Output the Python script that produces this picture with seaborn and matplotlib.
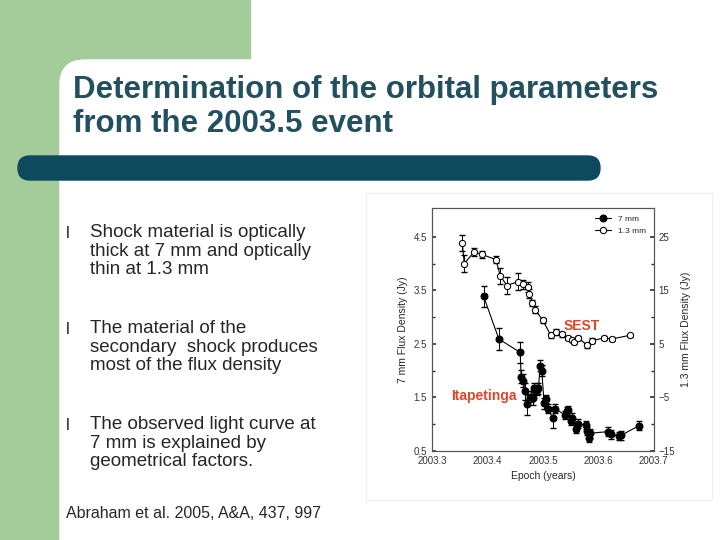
import matplotlib
matplotlib.use("Agg")
import matplotlib.pyplot as plt
from matplotlib.patches import Rectangle, FancyBboxPatch
import seaborn as sns
import pandas as pd

sns.set_theme(style="white")
plt.rcParams['font.family'] = ['Liberation Sans', 'DejaVu Sans']

t13 = [2003.3546, 2003.3582, 2003.3762, 2003.39, 2003.4152, 2003.423, 2003.435, 2003.4548,
       2003.4638, 2003.4728, 2003.4758, 2003.4812, 2003.486, 2003.4998, 2003.5142, 2003.5232,
       2003.5352, 2003.5448, 2003.552, 2003.5562, 2003.564, 2003.5802, 2003.588, 2003.6108,
       2003.624, 2003.657]
f13 = [23.9, 20.0, 22.2, 21.7, 20.75, 17.75, 15.9, 16.6, 16.1, 15.6, 14.4, 12.6, 11.4, 9.4,
       6.6, 7.2, 6.75, 6.1, 5.75, 5.4, 6.1, 4.7, 5.6, 6.1, 5.9, 6.6]
e13 = [1.5, 1.6, 0.8, 0.6, 0.7, 1.5, 1.6, 1.6, 0.9, 0.9, 0.8, 0.6, 0.6, 0.5, 0.5, 0.5,
       0.4, 0.4, 0.4, 0.4, 0.4, 0.4, 0.4, 0.3, 0.3, 0.3]
t7 = [2003.393, 2003.4206, 2003.459, 2003.4608, 2003.4644, 2003.468, 2003.471, 2003.4782,
      2003.4818, 2003.4848, 2003.489, 2003.492, 2003.495, 2003.498, 2003.5022, 2003.5058,
      2003.5088, 2003.5178, 2003.522, 2003.54, 2003.543, 2003.546, 2003.5502, 2003.5532,
      2003.5598, 2003.564, 2003.5778, 2003.5802, 2003.5832, 2003.585, 2003.618, 2003.6222,
      2003.6378, 2003.6408, 2003.6732]
f7 = [3.39, 2.59, 2.34, 1.89, 1.81, 1.61, 1.37, 1.51, 1.48, 1.67, 1.64, 1.67, 2.09, 2.0,
      1.39, 1.47, 1.29, 1.12, 1.29, 1.17, 1.24, 1.26, 1.06, 1.11, 0.91, 1.01, 0.98, 0.87,
      0.74, 0.83, 0.86, 0.81, 0.78, 0.79, 0.97]
e7 = [0.2, 0.2, 0.2, 0.12, 0.12, 0.15, 0.2, 0.1, 0.12, 0.1, 0.1, 0.1, 0.1, 0.1, 0.1, 0.08,
      0.08, 0.2, 0.08, 0.08, 0.08, 0.08, 0.08, 0.1, 0.08, 0.08, 0.08, 0.08, 0.08, 0.08, 0.08,
      0.08, 0.08, 0.08, 0.08]

fig = plt.figure(figsize=(7.2, 5.4), dpi=100)
fig.patch.set_facecolor('white')
bg = fig.add_axes([0, 0, 1, 1]); bg.set_xlim(0, 720); bg.set_ylim(540, 0); bg.axis('off')
green = '#a3cc9a'
bg.add_patch(Rectangle((0, 0), 60, 540, color=green))
bg.add_patch(Rectangle((0, 0), 250, 60, color=green))
bg.add_patch(Rectangle((0, 0), 100, 100, color=green))
bg.add_patch(FancyBboxPatch((60, 60), 700, 520, boxstyle="round,pad=0,rounding_size=25", color='white'))
bg.add_patch(FancyBboxPatch((18, 156), 582, 24, boxstyle="round,pad=0,rounding_size=12", color='#0e4a5f'))
bg.text(73, 107, "Determination of the orbital parameters\nfrom the 2003.5 event", fontsize=22.5, fontweight='bold',
        color='#23505f', va='center', linespacing=1.2)
bullets = [(233, "Shock material is optically\nthick at 7 mm and optically\nthin at 1.3 mm"),
           (329, "The material of the\nsecondary  shock produces\nmost of the flux density"),
           (425, "The observed light curve at\n7 mm is explained by\ngeometrical factors.")]
for y, s in bullets:
    bg.text(66, y, "l", fontsize=12, va='center')
    bg.text(90, y - 9, s, fontsize=13.5, va='top', linespacing=1.13)
bg.text(66, 513, "Abraham et al. 2005, A&A, 437, 997", fontsize=11.5, va='center')
bg.add_patch(Rectangle((366, 193), 346, 307, facecolor='white', edgecolor='#eeeeee', lw=0.8))

ax = fig.add_axes([0.6, 0.165, 0.308, 0.45])
ax2 = ax.twinx()
d7 = pd.DataFrame({'t': t7, 'f': f7})
d13 = pd.DataFrame({'t': t13, 'f': f13})
ax.errorbar(t7, f7, yerr=e7, fmt='none', ecolor='black', lw=0.7, capsize=2)
sns.lineplot(data=d7, x='t', y='f', ax=ax, color='black', lw=0.8, marker='o', markersize=5,
             markerfacecolor='black', markeredgecolor='black', label='7 mm', legend=False)
ax2.errorbar(t13, f13, yerr=e13, fmt='none', ecolor='black', lw=0.7, capsize=2)
sns.lineplot(data=d13, x='t', y='f', ax=ax2, color='black', lw=0.8, marker='o', markersize=4.5,
             markerfacecolor='white', markeredgecolor='black', label='1.3 mm', legend=False)
ax.set_xlim(2003.3, 2003.7); ax.set_ylim(0.5, 5.04); ax2.set_ylim(-15, 30.4)
ax.set_xticks([2003.3, 2003.4, 2003.5, 2003.6, 2003.7])
ax.set_xticklabels(['2003.3', '2003.4', '2003.5', '2003.6', '2003.7'])
ax.set_yticks([0.5, 1.5, 2.5, 3.5, 4.5]); ax2.set_yticks([-15, -5, 5, 15, 25])
ax.set_yticks([1.0, 2.0, 3.0, 4.0], minor=True); ax2.set_yticks([-10, 0, 10, 20], minor=True)
ax.set_xticks([2003.35, 2003.45, 2003.55, 2003.65], minor=True)
for a in (ax, ax2):
    a.tick_params(which='both', direction='in', labelsize=7, colors='#333333', length=3)
    a.tick_params(which='minor', length=2)
    for s in a.spines.values():
        s.set_color('#555555'); s.set_linewidth(0.8)
ax.set_xlabel('Epoch (years)', fontsize=7.5); ax.set_ylabel('7 mm Flux Density (Jy)', fontsize=7.5)
ax2.set_ylabel('1.3 mm Flux Density (Jy)', fontsize=7.5)
h1, l1 = ax.get_legend_handles_labels(); h2, l2 = ax2.get_legend_handles_labels()
ax2.legend(h1 + h2, l1 + l2, loc='upper right', fontsize=6, frameon=False, handlelength=2)
ax.text(2003.537, 2.75, 'SEST', color='#e0452a', fontsize=10, fontweight='bold')
ax.text(2003.335, 1.45, 'Itapetinga', color='#e0452a', fontsize=10, fontweight='bold')

fig.savefig('out.png', dpi=100)
